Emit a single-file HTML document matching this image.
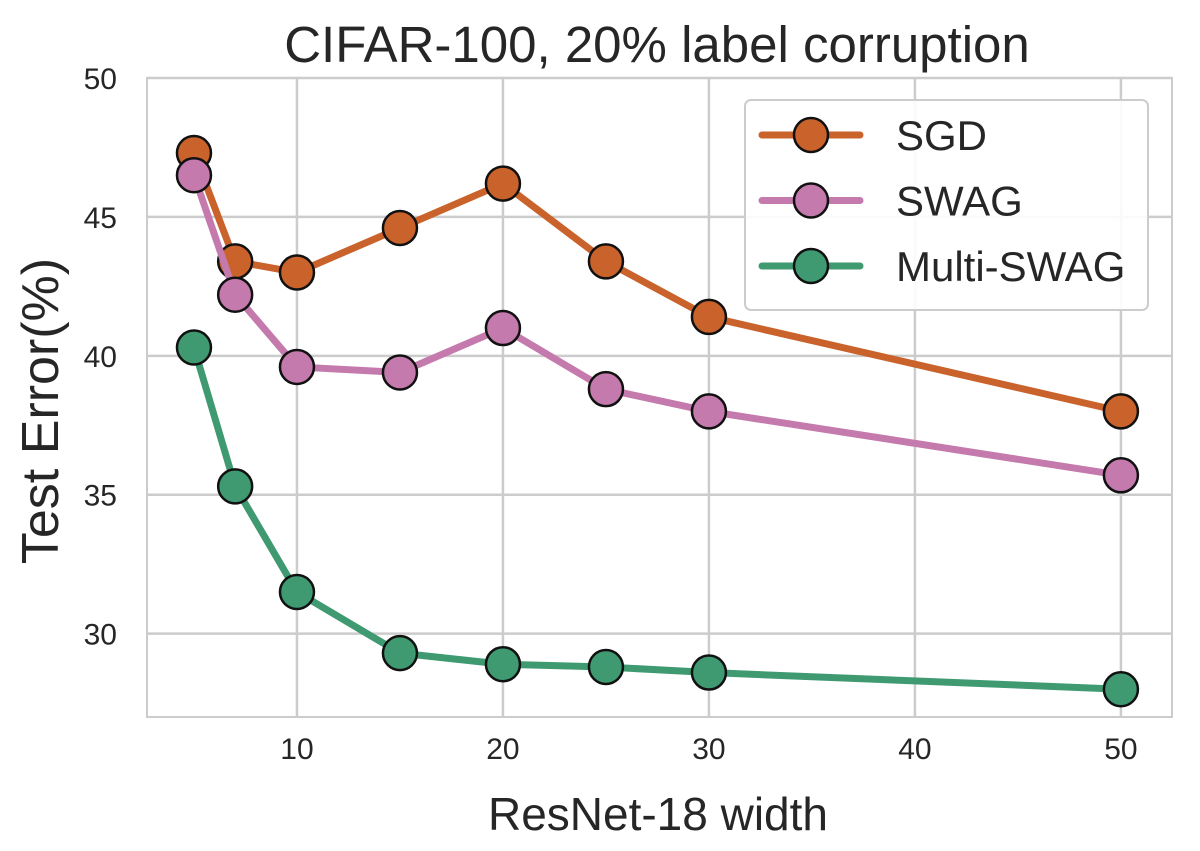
<!DOCTYPE html>
<html><head><meta charset="utf-8"><style>
html,body{margin:0;padding:0;background:#fff;}
svg{display:block;font-family:"Liberation Sans","DejaVu Sans",sans-serif;}
</style></head><body>
<svg id="chart" width="1200" height="851" viewBox="0 0 1200 851">
<rect x="0" y="0" width="1200" height="851" fill="#fff"/>
<g id="grid"></g>
<rect x="147" y="78" width="1025" height="639" fill="none" stroke="#cccccc" stroke-width="2"/>
<g id="ticks"></g>
<g id="series"></g>
<text x="657" y="62" text-anchor="middle" font-size="51" fill="#262626">CIFAR-100, 20% label corruption</text>
<text x="658" y="830" text-anchor="middle" font-size="46" fill="#262626">ResNet-18 width</text>
<text transform="translate(58,411) rotate(-90)" text-anchor="middle" font-size="52" fill="#262626">Test Error(%)</text>
<g id="legend">
<rect x="745" y="100" width="403" height="210" rx="6" fill="#fff" fill-opacity="0.9" stroke="#cccccc" stroke-width="2"/>
</g>
</svg>
<script>
const widths = [5, 7, 10, 15, 20, 25, 30, 50];
const sgd = [47.3, 43.4, 43.0, 44.6, 46.2, 43.4, 41.4, 38.0];
const swag = [46.5, 42.2, 39.6, 39.4, 41.0, 38.8, 38.0, 35.7];
const multiSwag = [40.3, 35.3, 31.5, 29.3, 28.9, 28.8, 28.6, 28.0];
const xTicks = [10, 20, 30, 40, 50];
const yTicks = [30, 35, 40, 45, 50];
const seriesNames = ["SGD", "SWAG", "Multi-SWAG"];
const seriesColors = ["#c9622b", "#c47aac", "#3f9a72"];

const NS = "http://www.w3.org/2000/svg";
const L = 147, R = 1172, T = 78, B = 717;
const xMin = 2.72, xMax = 52.48, yMin = 27.0, yMax = 50.0;
function sx(v){ return L + (v - xMin) / (xMax - xMin) * (R - L); }
function sy(v){ return B - (v - yMin) / (yMax - yMin) * (B - T); }
function mk(tag, attrs, parent){ const e = document.createElementNS(NS, tag); for (const k in attrs) e.setAttribute(k, attrs[k]); parent.appendChild(e); return e; }

const grid = document.getElementById('grid');
const ticks = document.getElementById('ticks');
xTicks.forEach(t => {
  const l = mk('line', {x1: sx(t), x2: sx(t), y1: T, y2: B, stroke: '#cccccc', 'stroke-width': 2.5}, grid);
  
  
  const tx = mk('text', {x: sx(t), y: B + 42, 'text-anchor': 'middle', 'font-size': 30, fill: '#262626'}, ticks);
  tx.textContent = t;
  
  
});
yTicks.forEach(t => {
  const l = mk('line', {x1: L, x2: R, y1: sy(t), y2: sy(t), stroke: '#cccccc', 'stroke-width': 2.5}, grid);
  
  
  const tx = mk('text', {x: L - 30, y: sy(t) + 11, 'text-anchor': 'end', 'font-size': 30, fill: '#262626'}, ticks);
  tx.textContent = t;
  
  
});

const seriesG = document.getElementById('series');
[sgd, swag, multiSwag].forEach((vals, si) => {
  const g = mk('g', {}, seriesG);
  
  
  const pts = widths.map((w, i) => sx(w) + ',' + sy(vals[i])).join(' ');
  const pl = mk('polyline', {points: pts, fill: 'none', stroke: seriesColors[si], 'stroke-width': 7, 'stroke-linejoin': 'round', 'stroke-linecap': 'round'}, g);
  
  
  widths.forEach((w, i) => {
    const c = mk('circle', {cx: sx(w), cy: sy(vals[i]), r: 17, fill: seriesColors[si], stroke: '#111', 'stroke-width': 2.5}, g);
    
    
  });
});

const legend = document.getElementById('legend');
seriesNames.forEach((n, i) => {
  const y = 135 + i * 65.5;
  const g = mk('g', {}, legend);
  
  
  mk('line', {x1: 762, x2: 860, y1: y, y2: y, stroke: seriesColors[i], 'stroke-width': 7, 'stroke-linecap': 'round'}, g);
  mk('circle', {cx: 811, cy: y, r: 17, fill: seriesColors[i], stroke: '#111', 'stroke-width': 2.5}, g);
  const t = mk('text', {x: 896, y: y + 15, 'font-size': 42, fill: '#262626'}, g);
  t.textContent = n;
});
</script>
</body></html>
